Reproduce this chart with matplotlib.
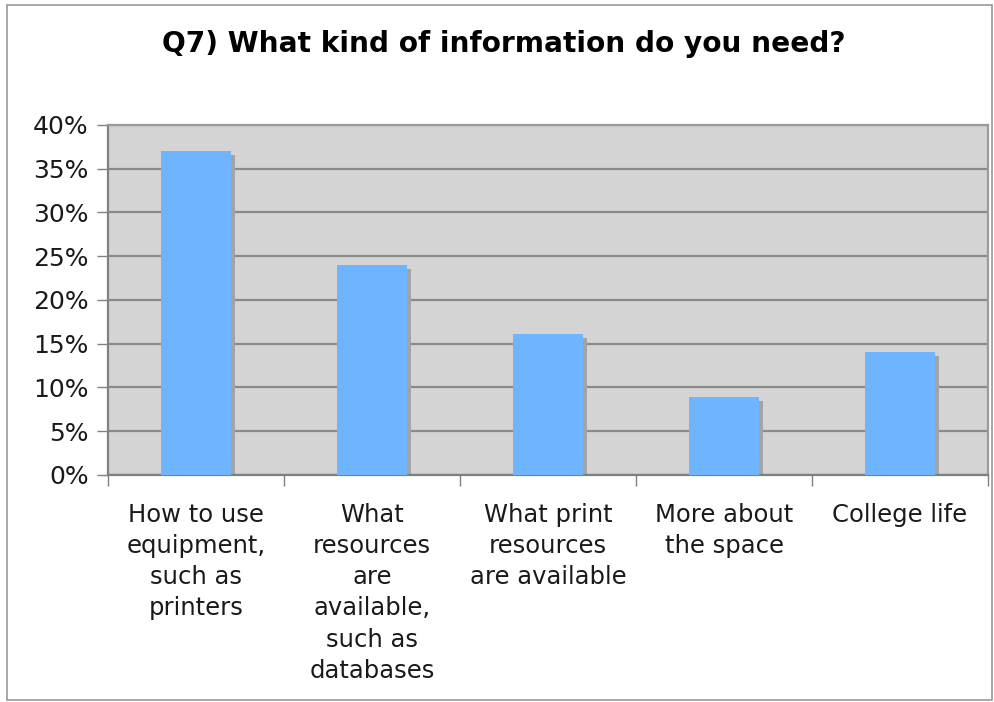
import numpy as np
import matplotlib
matplotlib.use('Agg')
import matplotlib.pyplot as plt
import matplotlib.transforms as mtransforms
from matplotlib.ticker import PercentFormatter, FixedLocator, NullFormatter
from matplotlib.patches import Rectangle

plt.rcParams['font.family'] = ['DejaVu Sans']

# survey answers, share of respondents in %
categories = [
    'How to use\nequipment,\nsuch as\nprinters',
    'What\nresources\nare\navailable,\nsuch as\ndatabases',
    'What print\nresources\nare available',
    'More about\nthe space',
    'College life',
]
shares = [37.0, 24.0, 16.1, 8.9, 14.1]
y_ticks = [0, 5, 10, 15, 20, 25, 30, 35, 40]

bar_color = '#6fb4ff'
shadow_color = '#a3a3a3'
plot_bg = '#d4d4d4'
grid_color = '#8a8a8a'

fig = plt.figure(figsize=(9.95, 7.02), dpi=100)
ax = fig.add_axes([0.1085, 0.3234, 0.8845, 0.4986])
ax.set_facecolor(plot_bg)

x = np.arange(len(categories))
width = 0.40

# drop shadow: same bars shifted a few pixels right and down
shadow_tr = ax.transData + mtransforms.ScaledTranslation(4 / 100, -4 / 100, fig.dpi_scale_trans)
ax.bar(x, shares, width=width, color=shadow_color, transform=shadow_tr, zorder=2, linewidth=0)
ax.bar(x, shares, width=width, color=bar_color, zorder=3, linewidth=0)

ax.set_xlim(-0.5, len(categories) - 0.5)
ax.set_ylim(0, 40)
ax.set_yticks(y_ticks)
ax.yaxis.set_major_formatter(PercentFormatter(decimals=0))
ax.yaxis.grid(True, color=grid_color, linewidth=1.6, zorder=1)
ax.set_axisbelow(True)

# category labels centred, tick marks between categories
ax.set_xticks(x)
ax.set_xticklabels(categories, linespacing=1.38, va='top')
ax.xaxis.set_minor_locator(FixedLocator(np.arange(-0.5, len(categories), 1.0)))
ax.xaxis.set_minor_formatter(NullFormatter())
ax.tick_params(axis='x', which='major', length=0, pad=20, labelsize=17.5, labelcolor='#1a1a1a')
ax.tick_params(axis='x', which='minor', length=8, width=1, color='#808080')
ax.tick_params(axis='y', length=8, width=1, color='#808080', pad=6, labelsize=18, labelcolor='#1a1a1a')

for side in ['left', 'bottom']:
    ax.spines[side].set_color('#808080')
    ax.spines[side].set_linewidth(1.6)
for side in ['top', 'right']:
    ax.spines[side].set_color('#9a9a9a')
    ax.spines[side].set_linewidth(1.6)

fig.text(0.506, 0.937, 'Q7) What kind of information do you need?', ha='center', va='center',
         fontsize=20.2, fontweight='bold', color='#000000')

# thin frame round the whole chart
fig.patches.append(Rectangle((0.007, 0.003), 0.99, 0.99, transform=fig.transFigure,
                             fill=False, edgecolor='#9a9a9a', linewidth=1.2))

fig.savefig('out.png', dpi=100)
